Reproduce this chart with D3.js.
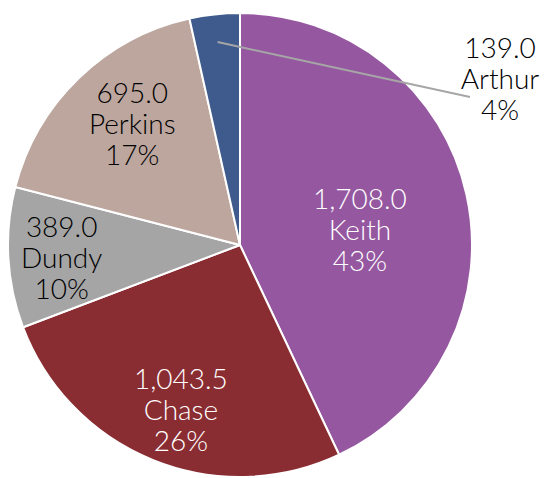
<!DOCTYPE html>
<html>
<head>
<meta charset="utf-8">
<script src="https://cdn.jsdelivr.net/npm/d3@7"></script>
<style>
  body { margin: 0; background: #fff; }
  svg text { font-family: "Lato", "DejaVu Sans", sans-serif; font-size: 28px; font-weight: 300; }
</style>
</head>
<body>
<svg id="pie" width="548" height="478"></svg>
<script>
const categories = ['Keith', 'Chase', 'Dundy', 'Perkins', 'Arthur'];
const values = [1708.0, 1043.5, 389.0, 695.0, 139.0];
const percentLabels = ['43%', '26%', '10%', '17%', '4%'];
const colors = ['#9558a0', '#8a2d33', '#a5a5a5', '#bca69e', '#3f5a8c'];
const textColors = ['#fff', '#fff', '#000', '#000', '#000'];

// label distance from centre, as a share of the radius (Arthur sits outside)
const labelRadius = [0.49, 0.75, 0.77, 0.68, 0];
const labelShift = [[9, 10], [6, 4], [0, 3], [2, -7], [0, 0]];

const WIDTH = 548, HEIGHT = 478;
const cx = 240, cy = 245, radius = 232;
const numberFormat = d3.format(',.1f');

const data = categories.map((c, i) => ({name: c, value: values[i], i: i}));

const svg = d3.select('#pie')
  .attr('viewBox', [0, 0, WIDTH, HEIGHT]);

const g = svg.append('g')
  .attr('transform', `translate(${cx},${cy})`);

const pie = d3.pie()
  .sort(null)
  .value(d => d.value);

const arc = d3.arc()
  .innerRadius(0)
  .outerRadius(radius);

const arcs = pie(data);

g.selectAll('path.slice')
  .data(arcs)
  .join('path')
  .attr('class', 'slice')
  .attr('d', arc)
  .attr('fill', d => colors[d.data.i])
  .attr('stroke', '#fff')
  .attr('stroke-width', 2)
  .attr('stroke-linejoin', 'round');

const lineHeight = 31;

function labelLines(d) {
  return [numberFormat(d.data.value), d.data.name, percentLabels[d.data.i]];
}

// Labels inside slices
const inside = arcs.filter(d => labelRadius[d.data.i] > 0);
const labels = g.selectAll('text.inner')
  .data(inside)
  .join('text')
  .attr('class', 'inner')
  .attr('text-anchor', 'middle')
  .attr('fill', d => textColors[d.data.i])
  .attr('transform', d => {
    const r = radius * labelRadius[d.data.i];
    const a = (d.startAngle + d.endAngle) / 2;
    const s = labelShift[d.data.i];
    return `translate(${Math.sin(a) * r + s[0]},${-Math.cos(a) * r + s[1]})`;
  });

labels.selectAll('tspan')
  .data(d => labelLines(d))
  .join('tspan')
  .attr('x', 0)
  .attr('y', (t, j) => (j - 1) * lineHeight)
  .attr('dy', '0.35em')
  .text(t => t);

// Arthur: outside label with leader line
const small = arcs.find(d => d.data.name === 'Arthur');
const mid = (small.startAngle + small.endAngle) / 2;
const p0 = [Math.sin(mid) * radius * 0.88, -Math.cos(mid) * radius * 0.88];
const labelPos = [260, -166];

g.append('line')
  .attr('x1', p0[0])
  .attr('y1', p0[1])
  .attr('x2', labelPos[0] - 30)
  .attr('y2', labelPos[1] + 18)
  .attr('stroke', '#a6a6a6')
  .attr('stroke-width', 2);

g.append('text')
  .attr('text-anchor', 'middle')
  .attr('fill', '#000')
  .attr('transform', `translate(${labelPos[0]},${labelPos[1]})`)
  .selectAll('tspan')
  .data(labelLines(small))
  .join('tspan')
  .attr('x', 0)
  .attr('y', (t, j) => (j - 1) * lineHeight)
  .attr('dy', '0.35em')
  .text(t => t);
</script>
</body>
</html>
